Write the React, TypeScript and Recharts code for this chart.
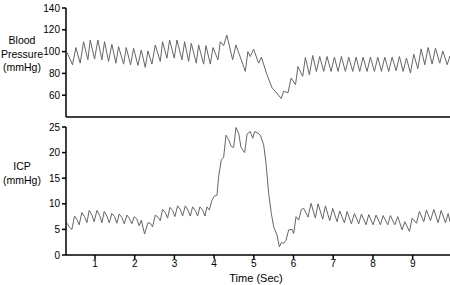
import { Line, LineChart, XAxis, YAxis } from "recharts"

// time in seconds
const bpTime = [
  0.3, 0.434, 0.518, 0.628, 0.712, 0.821, 0.88, 0.989, 1.073, 1.174, 1.241, 1.342, 1.426, 1.526,
  1.594, 1.72, 1.787, 1.896, 1.972, 2.081, 2.165, 2.266, 2.333, 2.434, 2.518, 2.644, 2.702, 2.812,
  2.879, 2.996, 3.064, 3.19, 3.257, 3.358, 3.425, 3.551, 3.61, 3.736, 3.794, 3.904, 3.971, 4.097,
  4.156, 4.24, 4.32, 4.466, 4.55, 4.786, 4.85, 4.91, 4.995, 5.12, 5.19, 5.33, 5.46, 5.54, 5.69,
  5.75, 5.86, 5.94, 6.05, 6.11, 6.23, 6.298, 6.399, 6.483, 6.575, 6.659, 6.76, 6.844, 6.945,
  7.029, 7.121, 7.205, 7.306, 7.39, 7.491, 7.575, 7.667, 7.751, 7.852, 7.936, 8.037, 8.121,
  8.213, 8.297, 8.398, 8.482, 8.583, 8.667, 8.759, 8.843, 8.944, 9.028, 9.129, 9.213, 9.305,
  9.389, 9.49, 9.574, 9.683, 9.759, 9.868, 9.94,
]
const bpValues = [
  99, 87.9, 103.7, 89.4, 109.1, 92.5, 110.6, 93.1, 110.6, 92.5, 109.1, 91, 106.7, 89.4,
  104.6, 88.5, 103.7, 87.9, 103.1, 87.3, 101.5, 85.5, 100.6, 88.5, 106.1, 91, 109.1, 94,
  110.6, 94, 110.6, 92.5, 109.1, 91, 107.6, 89.4, 106.1, 88.5, 105.5, 88.5, 103.7, 92.5,
  109.1, 105.5, 115.2, 92.5, 106.1, 81.8, 100, 95.5, 102.2, 89.4, 94.9, 78.8, 66.7, 63.6, 57,
  63.6, 62.2, 75.8, 69.7, 86.4, 77.3, 94.6, 78.8, 96.4, 81.8, 95.5, 81.8, 95.5, 81.8,
  94.9, 81.8, 95.5, 81.8, 94.9, 81.8, 94.9, 81.8, 94.9, 81.8, 94.9, 81.8, 94.9,
  81.8, 94.9, 81.8, 94.9, 82.5, 95.5, 81.8, 94, 80.3, 97.6, 84.3, 102.5, 87.9,
  103.7, 88.5, 103.1, 89.4, 100.6, 88, 96,
]

const icpTime = [
  0.3, 0.35, 0.418, 0.485, 0.544, 0.602, 0.67, 0.737, 0.796, 0.854, 0.922, 0.98, 1.048, 1.115,
  1.174, 1.232, 1.3, 1.358, 1.426, 1.493, 1.552, 1.61, 1.678, 1.736, 1.804, 1.862, 1.93, 1.988,
  2.056, 2.114, 2.165, 2.249, 2.333, 2.392, 2.45, 2.518, 2.585, 2.644, 2.702, 2.77, 2.828,
  2.887, 2.954, 3.013, 3.08, 3.148, 3.206, 3.274, 3.34, 3.4, 3.458, 3.526, 3.584, 3.643, 3.71,
  3.77, 3.82, 3.878, 3.946, 4.004, 4.072, 4.114, 4.18, 4.24, 4.299, 4.366, 4.433, 4.492, 4.55,
  4.618, 4.677, 4.769, 4.828, 4.912, 4.971, 5.021, 5.105, 5.164, 5.248, 5.307, 5.374, 5.441,
  5.5, 5.584, 5.643, 5.693, 5.752, 5.811, 5.878, 5.962, 6.004, 6.063, 6.13, 6.197, 6.256,
  6.365, 6.441, 6.55, 6.617, 6.735, 6.802, 6.911, 6.987, 7.096, 7.163, 7.281, 7.348, 7.457,
  7.533, 7.642, 7.709, 7.827, 7.894, 8.003, 8.079, 8.188, 8.255, 8.373, 8.44, 8.549, 8.625,
  8.734, 8.801, 8.919, 8.986, 9.095, 9.171, 9.28, 9.347, 9.448, 9.532, 9.641, 9.717, 9.826,
  9.893, 9.94,
]
const icpValues = [
  6.2, 5.5, 5.0, 7.6, 7.0, 5.9, 8.3, 7.5, 6.3, 8.7, 7.8, 6.5, 8.7, 7.8,
  6.3, 8.5, 7.6, 6.3, 8.1, 7.5, 6.2, 8.0, 7.3, 6.1, 7.8, 7.2, 6.1, 7.5,
  7.0, 5.7, 6.8, 4.1, 6.3, 6.2, 5.5, 7.8, 7.4, 6.7, 8.9, 8.3, 7.2,
  9.3, 8.7, 7.5, 9.6, 8.9, 7.6, 9.6, 8.8, 7.6, 9.4, 8.7, 7.6, 9.4, 8.8,
  7.6, 9.4, 8.8, 10.7, 11.5, 11.7, 15.3, 18.6, 19.1, 23.4, 22.5, 21.2, 21.0, 24.9,
  23.8, 21.0, 20.0, 23.6, 24.1, 22.8, 24.1, 23.8, 23.4, 21.5, 17.9, 12.0, 8.1,
  5.5, 3.9, 1.6, 2.4, 2.3, 2.9, 4.9, 5.0, 4.2, 7.5, 6.8, 8.9, 9.1,
  7.4, 10.1, 7.2, 10.0, 7.0, 9.6, 6.7, 9.1, 6.5, 8.6, 6.3, 8.5, 6.1,
  8.1, 6.1, 8.0, 5.9, 7.9, 5.9, 7.8, 5.9, 7.7, 5.9, 7.7, 5.9, 7.5,
  4.9, 6.5, 4.6, 7.2, 6.2, 8.5, 6.5, 8.8, 6.7, 8.9, 6.3, 8.7, 6.3,
  8.1, 6.5,
]

const timeTicks = [1, 2, 3, 4, 5, 6, 7, 8, 9]
const bpTicks = [60, 80, 100, 120, 140]
const icpTicks = [0, 5, 10, 15, 20, 25]

const bpData = bpTime.map((t, i) => ({ t, v: bpValues[i] }))
const icpData = icpTime.map((t, i) => ({ t, v: icpValues[i] }))

const timeDomain = [0.27, 9.94]
const axisStyle = { stroke: "#000", strokeWidth: 1.5 }
const tickStyle = { fill: "#000", fontSize: 10 }
const traceColor = "#666"

const labelStyle: React.CSSProperties = {
  position: "absolute",
  left: 0,
  width: 44,
  textAlign: "center",
  fontSize: 10.5,
  lineHeight: "13.5px",
}

export default function App() {
  return (
    <div
      style={{
        position: "absolute",
        top: 0,
        left: 0,
        width: 450,
        height: 285,
        background: "#fff",
        fontFamily: "'Liberation Sans', Arial, sans-serif",
      }}
    >
      <div style={{ ...labelStyle, top: 34 }}>
        Blood
        <br />
        Pressure
        <br />
        (mmHg)
      </div>
      <div style={{ ...labelStyle, top: 160 }}>
        ICP
        <br />
        (mmHg)
      </div>

      <div style={{ position: "absolute", top: 0, left: 0 }}>
        <LineChart width={450} height={122} data={bpData} margin={{ top: 8, right: 0, bottom: 0, left: 0 }}>
          <XAxis
            dataKey="t"
            type="number"
            domain={timeDomain}
            allowDataOverflow
            height={5}
            tick={false}
            tickLine={false}
            axisLine={axisStyle}
          />
          <YAxis
            type="number"
            domain={[40, 140]}
            ticks={bpTicks}
            width={66}
            tick={tickStyle}
            tickSize={4}
            tickMargin={2}
            tickLine={axisStyle}
            axisLine={axisStyle}
          />
          <Line dataKey="v" type="linear" stroke={traceColor} strokeWidth={1} dot={false} isAnimationActive={false} />
        </LineChart>
      </div>

      <div style={{ position: "absolute", top: 119, left: 0 }}>
        <LineChart width={450} height={166} data={icpData} margin={{ top: 8, right: 0, bottom: 0, left: 0 }}>
          <XAxis
            dataKey="t"
            type="number"
            domain={timeDomain}
            allowDataOverflow
            ticks={timeTicks}
            height={30}
            tick={tickStyle}
            tickSize={4}
            tickMargin={1}
            tickLine={axisStyle}
            axisLine={axisStyle}
            label={{ value: "Time (Sec)", position: "insideBottom", offset: 3, dx: -2, fill: "#000", fontSize: 11 }}
          />
          <YAxis
            type="number"
            domain={[0, 25]}
            ticks={icpTicks}
            width={66}
            tick={tickStyle}
            tickSize={4}
            tickMargin={2}
            tickLine={axisStyle}
            axisLine={axisStyle}
          />
          <Line dataKey="v" type="linear" stroke={traceColor} strokeWidth={1} dot={false} isAnimationActive={false} />
        </LineChart>
      </div>
    </div>
  )
}
